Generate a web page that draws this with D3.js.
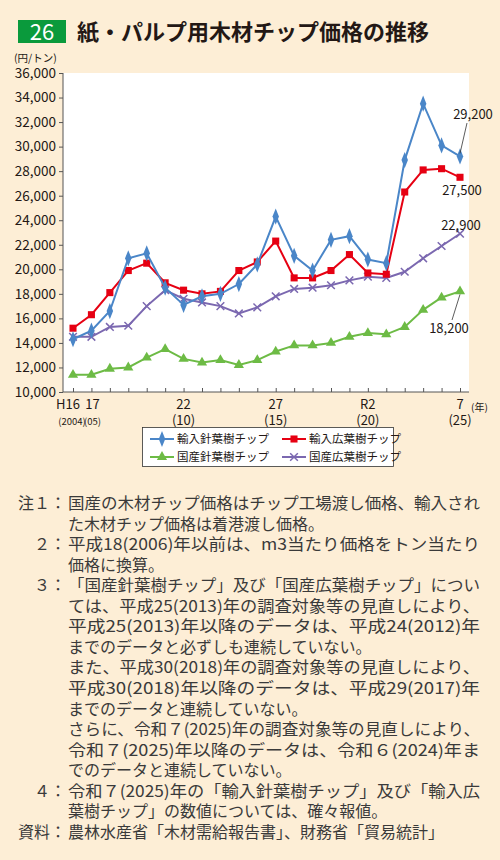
<!DOCTYPE html>
<html><head><meta charset="utf-8">
<script src="https://cdn.jsdelivr.net/npm/d3@7"></script>
<style>body{margin:0;background:#fdeed6}text{font-family:"Noto Sans CJK JP","Noto Sans",sans-serif}</style>
</head><body><svg id="c" width="500" height="860"></svg>
<script>
const years = d3.range(2004, 2026);
const importConifer = [14300,15000,16600,20900,21300,18500,17100,17800,18000,18800,20400,24300,21100,19900,22400,22700,20800,20500,28900,33500,30100,29200];
const importBroadleaf = [15200,16300,18100,19900,20500,18900,18300,18000,18200,19900,20600,22300,19300,19300,19900,21200,19700,19600,26300,28100,28200,27500];
const domesticConifer = [11400,11400,11900,12000,12800,13500,12700,12400,12600,12200,12600,13300,13800,13800,14000,14500,14800,14700,15300,16700,17700,18200];
const domesticBroadleaf = [14500,14500,15300,15400,17000,18300,17600,17300,17000,16400,16900,17800,18400,18500,18700,19100,19400,19300,19800,20900,21900,22900];
const yTicks = d3.range(10000, 36001, 2000);
const xLabels = [[2004,"H16","(2004)",-5,-1],[2005,"17","(05)",1,1],[2010,"22","(10)",0,0],[2015,"27","(15)",0,0],[2020,"R2","(20)",0,0],[2025,"7","(25)",0,0]];
const seriesNames = ["輸入針葉樹チップ","輸入広葉樹チップ","国産針葉樹チップ","国産広葉樹チップ"];
const notes = [
 ["注１：","国産の木材チップ価格はチップ工場渡し価格、輸入され"],
 ["","た木材チップ価格は着港渡し価格。"],
 ["２：","平成18(2006)年以前は、m3当たり価格をトン当たり"],
 ["","価格に換算。"],
 ["３：","「国産針葉樹チップ」及び「国産広葉樹チップ」につい"],
 ["","ては、平成25(2013)年の調査対象等の見直しにより、"],
 ["","平成25(2013)年以降のデータは、平成24(2012)年"],
 ["","までのデータと必ずしも連続していない。"],
 ["","また、平成30(2018)年の調査対象等の見直しにより、"],
 ["","平成30(2018)年以降のデータは、平成29(2017)年"],
 ["","までのデータと連続していない。"],
 ["","さらに、令和７(2025)年の調査対象等の見直しにより、"],
 ["","令和７(2025)年以降のデータは、令和６(2024)年ま"],
 ["","でのデータと連続していない。"],
 ["４：","令和７(2025)年の「輸入針葉樹チップ」及び「輸入広"],
 ["","葉樹チップ」の数値については、確々報値。"],
 ["資料：","農林水産省「木材需給報告書」、財務省「貿易統計」"]
];
const fullLines = new Set([0,2,4,5,6,8,9,11,12,14]);
const svg = d3.select("#c");
const colors = ["#4a86c8","#e60012","#6dbb45","#7b68b0"];
const data = [importConifer, importBroadleaf, domesticConifer, domesticBroadleaf];
const L=63,R=469,T=73,B=392;
const x = d3.scaleLinear().domain([2004,2025]).range([73,460]);
const y = d3.scaleLinear().domain([10000,36000]).range([B,T]);
svg.append("rect").attr("x",18).attr("y",20).attr("width",48).attr("height",23).attr("fill","#0a9a3c");
svg.append("text").attr("x",42).attr("y",40).attr("text-anchor","middle").attr("fill","#fff").attr("font-size",22).attr("font-family","Liberation Sans").text("26");
svg.append("text").attr("x",77).attr("y",40).attr("font-size",22).attr("font-weight","bold").attr("fill","#231815").text("紙・パルプ用木材チップ価格の推移");
svg.append("text").attr("x",14).attr("y",62).attr("font-size",10.5).attr("fill","#231815").text("(円/トン)");
svg.append("rect").attr("x",L).attr("y",T).attr("width",R-L).attr("height",B-T).attr("fill","#fff");
const ya = svg.append("g").attr("transform",`translate(${L},0)`).call(d3.axisLeft(y).tickValues(yTicks).tickSize(4).tickFormat(d3.format(",")));
ya.selectAll("text").attr("font-size",13.5).attr("fill","#231815").attr("font-family","Liberation Sans");
ya.selectAll("line").attr("stroke","#555"); ya.select(".domain").attr("stroke","#555").attr("d",`M0,${T}V${B}`);
const xa = svg.append("g").attr("transform",`translate(0,${B})`).call(d3.axisBottom(x).tickValues(years).tickSize(-4).tickFormat(""));
xa.selectAll("line").attr("stroke","#555"); xa.select(".domain").attr("stroke","#555").attr("d",`M${L},0H${R}`);
xLabels.forEach(([yr,a,b,o1,o2])=>{
  const small = yr<2006;
  svg.append("text").attr("x",x(yr)+o1).attr("y",409).attr("text-anchor","middle").attr("font-size",13).attr("font-family","Liberation Sans").attr("fill","#231815").text(a);
  svg.append("text").attr("x",x(yr)+o2).attr("y",425).attr("text-anchor","middle").attr("font-size",small?9.5:13).attr("font-family","Liberation Sans Narrow, Liberation Sans").attr("fill","#231815").text(b);
});
svg.append("text").attr("x",471).attr("y",411).attr("font-size",10).attr("fill","#231815").text("(年)");
const line = d3.line().x((d,i)=>x(years[i])).y(d=>y(d));
const sym = [d3.symbolDiamond, d3.symbolSquare, d3.symbolTriangle, d3.symbolX];
const symSize = [45,50,45,40];
function marker(g,k,cx,cy){
  const p = g.append("path").attr("d",d3.symbol(sym[k],symSize[k])()).attr("transform",`translate(${cx},${cy})${k==0?" scale(0.9,1.3)":""}`);
  if(k==3) p.attr("fill","none").attr("stroke",colors[k]).attr("stroke-width",1.5);
  else p.attr("fill",colors[k]);
}
[3,2,1,0].forEach(k=>{
  svg.append("path").datum(data[k]).attr("d",line).attr("fill","none").attr("stroke",colors[k]).attr("stroke-width",2);
  const g=svg.append("g");
  data[k].forEach((v,i)=>marker(g,k,x(years[i]),y(v)));
});
const ex=x(2025);
function lab(t,tx,ty,lx1,ly1,lx2,ly2){
  svg.append("text").attr("x",tx).attr("y",ty).attr("text-anchor","middle").attr("font-size",13).attr("font-family","Liberation Sans").attr("fill","#231815").text(t);
  if(lx1!=null) svg.append("line").attr("x1",lx1).attr("y1",ly1).attr("x2",lx2).attr("y2",ly2).attr("stroke","#333").attr("stroke-width",0.8);
}
lab("29,200",473,119,467,123,ex,y(importConifer[21])-3);
lab("27,500",462,195);
lab("22,900",461,230);
lab("18,200",449,333,452,320,ex,y(domesticConifer[21])+3);
svg.append("rect").attr("x",142.5).attr("y",427.5).attr("width",251).attr("height",39).attr("fill","#fff").attr("stroke","#333").attr("stroke-width",0.8);
const lp=[[150,439],[282,439],[150,457],[282,457]];
seriesNames.forEach((n,k)=>{
  const [lx,ly]=lp[k];
  svg.append("line").attr("x1",lx).attr("x2",lx+24).attr("y1",ly).attr("y2",ly).attr("stroke",colors[k]).attr("stroke-width",2);
  marker(svg,k,lx+12,ly);
  svg.append("text").attr("x",lx+27).attr("y",ly+4).attr("font-size",11.5).attr("fill","#231815").text(n);
});
notes.forEach((n,i)=>{
  const yy=509+i*20.55;
  if(n[0]) svg.append("text").attr("x",66).attr("y",yy).attr("text-anchor","end").attr("font-size",16).attr("fill","#3a3a3a").text(n[0]);
  const t=svg.append("text").attr("x",68).attr("y",yy).attr("font-size",16).attr("fill","#3a3a3a").text(n[1]);
  if(fullLines.has(i)) t.attr("textLength",412).attr("lengthAdjust","spacingAndGlyphs");
});
</script></body></html>
